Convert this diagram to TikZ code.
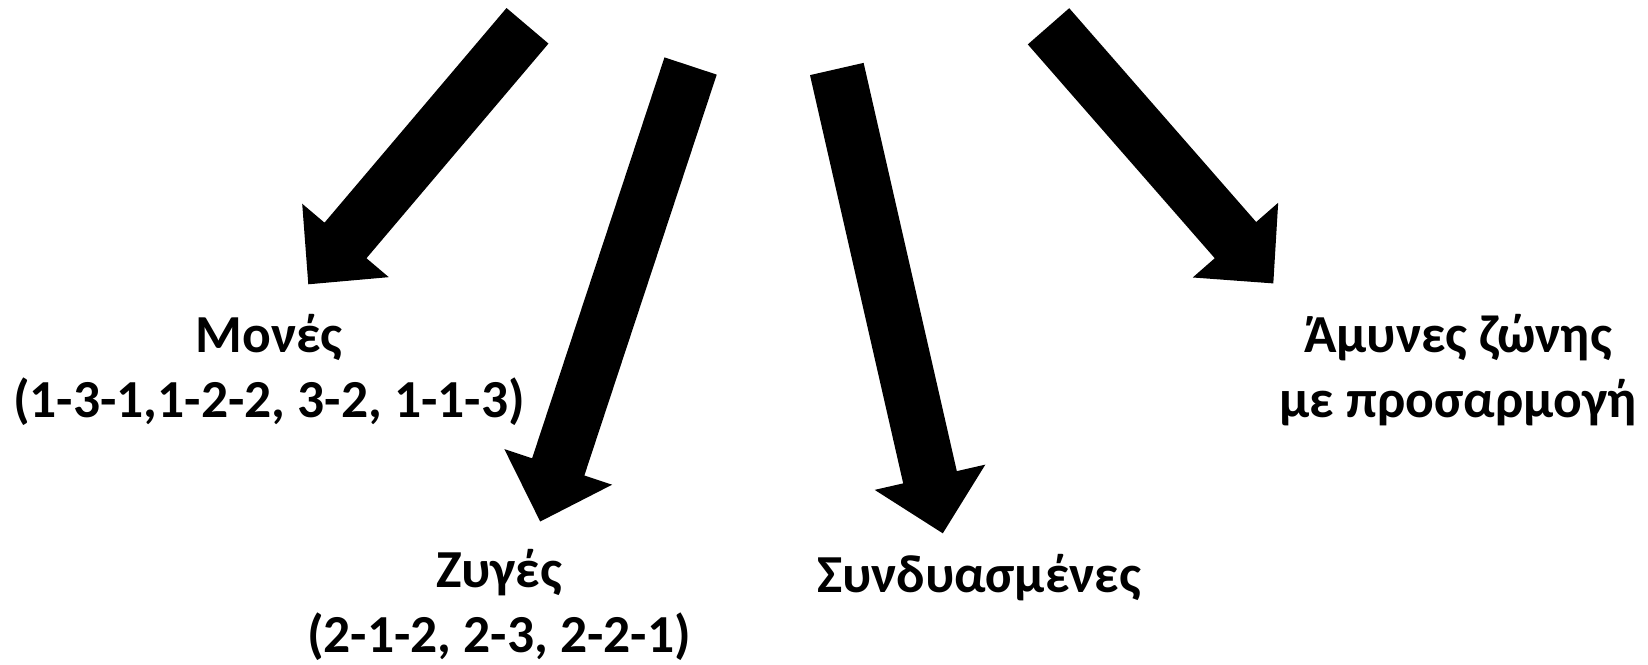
\documentclass[tikz,border=0pt]{standalone}
\usepackage{fontspec}
\setmainfont{Carlito}
\usetikzlibrary{calc}
\tikzset{
  lbl/.style={font=\bfseries\fontsize{53.5}{65}\selectfont, align=center, inner sep=0pt, anchor=base},
  blockfill/.style={fill=black},
}
% #1 tail coordinate name, #2 tip coordinate name
\newcommand\blockarrow[2]{%
  \coordinate (#1-h) at ($(#2)!57.5pt!(#1)$);
  \path[blockfill] ($(#1)!27.5pt!90:(#2)$) -- ($(#1-h)!27.5pt!90:(#2)$)
    -- ($(#1-h)!56.75pt!90:(#2)$) -- (#2) -- ($(#1-h)!56.75pt!-90:(#2)$)
    -- ($(#1-h)!27.5pt!-90:(#2)$) -- ($(#1)!27.5pt!-90:(#2)$) -- cycle;
}
\begin{document}
\begin{tikzpicture}[x=1pt,y=-1pt]
  \useasboundingbox (0,0) rectangle (1648,664);
  % labels (base anchor = baseline of last line)
  \node[lbl] (mones) at (269,417) {Μονές\\(1-3-1,1-2-2, 3-2, 1-1-3)};
  \node[lbl] (zyges) at (499,652) {Ζυγές\\(2-1-2, 2-3, 2-2-1)};
  \node[lbl] (synd) at (979,592) {Συνδυασμένες};
  \node[lbl] (zone) at (1458,417) {Άμυνες ζώνης\\με προσαρμογή};
  % arrow ends
  \coordinate (t1) at (527.5,25.8);  \coordinate (p1) at (308.3,284.3);
  \coordinate (t2) at (690.6,66);    \coordinate (p2) at (540.2,521.5);
  \coordinate (t3) at (836.8,69);    \coordinate (p3) at (942.8,533.3);
  \coordinate (t4) at (1048.5,26.3); \coordinate (p4) at (1273.3,283.4);
  \blockarrow{t1}{p1}
  \blockarrow{t2}{p2}
  \blockarrow{t3}{p3}
  \blockarrow{t4}{p4}
\end{tikzpicture}
\end{document}
